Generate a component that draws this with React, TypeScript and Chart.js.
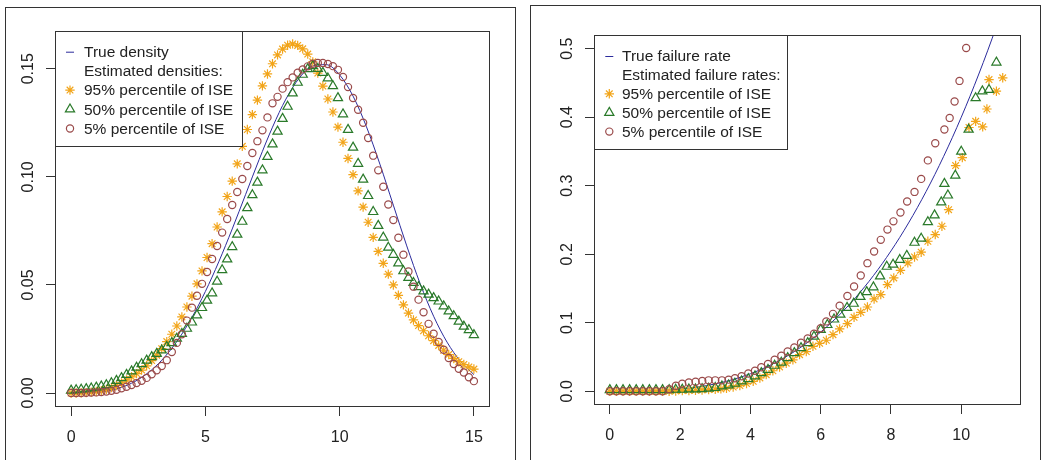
import React, { useEffect, useRef } from "react";
import { Chart, registerables } from "chart.js";

Chart.register(...registerables);

// ---------------- Left panel data (density) ----------------
const gridX = [
  0, 0.1875, 0.375, 0.5625, 0.75, 0.9375, 1.125, 1.3125, 1.5, 1.6875, 1.875, 2.0625, 2.25, 2.4375, 2.625, 2.8125,
  3, 3.1875, 3.375, 3.5625, 3.75, 3.9375, 4.125, 4.3125, 4.5, 4.6875, 4.875, 5.0625, 5.25, 5.4375, 5.625, 5.8125,
  6, 6.1875, 6.375, 6.5625, 6.75, 6.9375, 7.125, 7.3125, 7.5, 7.6875, 7.875, 8.0625, 8.25, 8.4375, 8.625, 8.8125,
  9, 9.1875, 9.375, 9.5625, 9.75, 9.9375, 10.125, 10.3125, 10.5, 10.6875, 10.875, 11.0625, 11.25, 11.4375, 11.625,
  11.8125, 12, 12.1875, 12.375, 12.5625, 12.75, 12.9375, 13.125, 13.3125, 13.5, 13.6875, 13.875, 14.0625, 14.25,
  14.4375, 14.625, 14.8125, 15,
];
const densStar95 = [
  0.0, 0.0, 0.0001, 0.0002, 0.0004, 0.0007, 0.0011, 0.0017, 0.0025, 0.0035, 0.0047, 0.006, 0.0075, 0.009, 0.0106,
  0.0126, 0.015, 0.0175, 0.0205, 0.0238, 0.0272, 0.031, 0.0352, 0.0398, 0.0448, 0.0505, 0.0565, 0.0627, 0.0691,
  0.0768, 0.0838, 0.0909, 0.098, 0.106, 0.1141, 0.1219, 0.1288, 0.1355, 0.1421, 0.1476, 0.1523, 0.1564, 0.1591,
  0.1609, 0.1615, 0.1608, 0.1592, 0.1568, 0.1532, 0.148, 0.142, 0.136, 0.13, 0.123, 0.116, 0.1085, 0.101, 0.0935,
  0.086, 0.079, 0.072, 0.0655, 0.06, 0.055, 0.05, 0.0452, 0.0408, 0.037, 0.0338, 0.0312, 0.0288, 0.0265, 0.0242,
  0.022, 0.0198, 0.0178, 0.016, 0.0145, 0.0132, 0.0121, 0.0111,
];
const densTri50 = [
  0.0012, 0.0014, 0.0016, 0.0019, 0.0022, 0.0026, 0.0031, 0.0037, 0.0046, 0.0057, 0.007, 0.0085, 0.0101, 0.0118,
  0.0134, 0.0151, 0.0167, 0.0182, 0.0198, 0.0214, 0.0232, 0.0252, 0.0274, 0.0298, 0.0327, 0.036, 0.0394, 0.0428,
  0.0462, 0.0516, 0.0569, 0.0619, 0.0676, 0.0733, 0.0793, 0.0856, 0.0916, 0.0974, 0.1031, 0.1093, 0.1151, 0.121,
  0.1269, 0.1325, 0.1387, 0.1436, 0.1473, 0.1499, 0.1513, 0.15, 0.1482, 0.1456, 0.142, 0.1365, 0.129, 0.1218,
  0.1136, 0.1061, 0.0988, 0.0912, 0.0838, 0.0774, 0.072, 0.0673, 0.064, 0.06, 0.0564, 0.0533, 0.051, 0.0491, 0.0471,
  0.0456, 0.044, 0.0424, 0.0402, 0.0378, 0.0356, 0.0331, 0.0308, 0.0292, 0.0269,
];
const densCirc5 = [
  0.0, 0.0, 0.0, 0.0001, 0.0002, 0.0003, 0.0005, 0.0007, 0.001, 0.0015, 0.0022, 0.0029, 0.0037, 0.0046, 0.0057,
  0.007, 0.0087, 0.0105, 0.0125, 0.0152, 0.019, 0.0232, 0.0272, 0.0335, 0.0395, 0.045, 0.0505, 0.056, 0.062, 0.068,
  0.0742, 0.0805, 0.087, 0.093, 0.099, 0.105, 0.111, 0.1165, 0.1215, 0.1275, 0.134, 0.137, 0.1408, 0.1438, 0.146,
  0.1482, 0.1497, 0.1511, 0.1523, 0.1527, 0.1527, 0.1522, 0.1512, 0.1495, 0.1462, 0.1415, 0.1365, 0.131, 0.125,
  0.118, 0.1098, 0.103, 0.0954, 0.0872, 0.08, 0.0718, 0.064, 0.0562, 0.0492, 0.0432, 0.0374, 0.032, 0.0274, 0.0236,
  0.02, 0.0162, 0.0134, 0.0112, 0.0095, 0.0073, 0.0055,
];
const densLineX = [
  0, 0.5, 1, 1.5, 2, 2.5, 3, 3.5, 4, 4.5, 5, 5.5, 6, 6.5, 7, 7.5, 8, 8.5, 9, 9.5, 10, 10.5, 11, 11.5, 12, 12.5, 13,
  13.5, 14, 14.5, 15,
];
const densLineY = [
  0, 0.00005, 0.0004, 0.00135, 0.00319, 0.00623, 0.01071, 0.01689, 0.02495, 0.03499, 0.04697, 0.06073, 0.07589,
  0.09189, 0.10792, 0.12298, 0.13597, 0.14575, 0.15131, 0.1519, 0.14715, 0.13734, 0.12314, 0.10585, 0.0869, 0.06805,
  0.05053, 0.03553, 0.02355, 0.01467, 0.00854,
];
const densXTicks = [0, 5, 10, 15];
const densYTicks = [0, 0.05, 0.1, 0.15];
const densYTickLabels = ["0.00", "0.05", "0.10", "0.15"];
const densLegend = [
  "True density",
  "Estimated densities:",
  "95% percentile of ISE",
  "50% percentile of ISE",
  "5% percentile of ISE",
];

// ---------------- Right panel data (failure rate) ----------------
const rateStarX = [
  0, 0.1875, 0.375, 0.5625, 0.75, 0.9375, 1.125, 1.3125, 1.5, 1.6875, 1.875, 2.0625, 2.25, 2.4375, 2.625, 2.8125, 3.0,
  3.16, 3.32, 3.51, 3.7, 3.89, 4.08, 4.27, 4.45, 4.64, 4.83, 5.02, 5.21, 5.4, 5.59, 5.78, 5.97, 6.16, 6.35, 6.54, 6.76,
  6.95, 7.14, 7.33, 7.52, 7.71, 7.9, 8.08, 8.27, 8.48, 8.67, 8.86, 9.05, 9.26, 9.45, 9.64, 9.84, 10.03, 10.22, 10.41,
  10.61, 10.73, 10.79, 11.0, 11.18,
];
const rateStarY = [
  0, 0, 0, 0, 0, 0, 0, 0, 0, 0, 0.0005, 0.001, 0.001, 0.0015, 0.002, 0.0025, 0.003, 0.0035, 0.0044, 0.0063, 0.0083,
  0.0112, 0.0146, 0.0195, 0.0243, 0.03, 0.0355, 0.041, 0.046, 0.0535, 0.058, 0.0657, 0.07, 0.0745, 0.0827, 0.091,
  0.0988, 0.108, 0.1153, 0.123, 0.1348, 0.1411, 0.1557, 0.1655, 0.1766, 0.1874, 0.196, 0.203, 0.219, 0.2288, 0.2409,
  0.265, 0.3295, 0.341, 0.385, 0.394, 0.386, 0.412, 0.455, 0.438, 0.4575,
];
const rateTriX = [
  0, 0.1875, 0.375, 0.5625, 0.75, 0.9375, 1.125, 1.3125, 1.5, 1.6875, 1.875, 2.0625, 2.25, 2.4375, 2.625, 2.8125, 3.0,
  3.19, 3.38, 3.56, 3.75, 3.94, 4.13, 4.31, 4.5, 4.69, 4.88, 5.06, 5.25, 5.44, 5.63, 5.81, 6.0, 6.19, 6.38, 6.56,
  6.75, 6.94, 7.13, 7.31, 7.5, 7.69, 7.88, 8.06, 8.25, 8.45, 8.67, 8.86, 9.05, 9.24, 9.43, 9.52, 9.62, 9.83, 10.0,
  10.21, 10.41, 10.6, 10.79, 11.0,
];
const rateTriY = [
  0.002, 0.002, 0.002, 0.002, 0.002, 0.002, 0.002, 0.002, 0.002, 0.002, 0.0025, 0.0025, 0.003, 0.003, 0.0035, 0.004,
  0.005, 0.0073, 0.0088, 0.0112, 0.0146, 0.018, 0.022, 0.0268, 0.0316, 0.0375, 0.042, 0.0487, 0.056, 0.0633, 0.0706,
  0.08, 0.09, 0.097, 0.105, 0.112, 0.122, 0.128, 0.138, 0.145, 0.152, 0.168, 0.182, 0.185, 0.192, 0.198, 0.217,
  0.223, 0.247, 0.257, 0.276, 0.303, 0.286, 0.315, 0.35, 0.382, 0.428, 0.438, 0.44, 0.48,
];
const rateCircX = [
  0, 0.1875, 0.375, 0.5625, 0.75, 0.9375, 1.125, 1.3125, 1.5, 1.69, 1.88, 2.06, 2.25, 2.44, 2.63, 2.81, 3.0, 3.19,
  3.38, 3.56, 3.75, 3.94, 4.13, 4.31, 4.5, 4.69, 4.88, 5.06, 5.25, 5.44, 5.63, 5.81, 6.0, 6.16, 6.35, 6.54, 6.76,
  6.95, 7.14, 7.33, 7.52, 7.71, 7.9, 8.07, 8.27, 8.46, 8.67, 8.86, 9.05, 9.26, 9.52, 9.67, 9.81, 9.95, 10.14,
];
const rateCircY = [
  0, 0, 0, 0, 0, 0, 0, 0, 0, 0.003, 0.008, 0.011, 0.013, 0.014, 0.015, 0.016, 0.016, 0.016, 0.017, 0.019, 0.022,
  0.026, 0.03, 0.035, 0.04, 0.046, 0.052, 0.058, 0.064, 0.071, 0.077, 0.084, 0.092, 0.102, 0.113, 0.125, 0.139,
  0.153, 0.169, 0.187, 0.204, 0.221, 0.236, 0.248, 0.261, 0.277, 0.291, 0.31, 0.337, 0.362, 0.382, 0.399, 0.423,
  0.453, 0.501,
];
const rateLineX = [
  0, 0.5, 1, 1.5, 2, 2.5, 3, 3.5, 4, 4.5, 5, 5.5, 6, 6.5, 7, 7.5, 8, 8.5, 9, 9.5, 10, 10.5, 11, 11.5,
];
const rateLineY = [
  0, 0.00005, 0.0004, 0.00135, 0.0032, 0.00625, 0.0108, 0.01715, 0.0256, 0.03645, 0.05, 0.06655, 0.0864, 0.10985,
  0.1372, 0.16875, 0.2048, 0.24565, 0.2916, 0.34295, 0.4, 0.46305, 0.5324, 0.60835,
];
const rateXTicks = [0, 2, 4, 6, 8, 10];
const rateYTicks = [0, 0.1, 0.2, 0.3, 0.4, 0.5];
const rateYTickLabels = ["0.0", "0.1", "0.2", "0.3", "0.4", "0.5"];
const rateLegend = [
  "True failure rate",
  "Estimated failure rates:",
  "95% percentile of ISE",
  "50% percentile of ISE",
  "5% percentile of ISE",
];

// ---------------- Styling ----------------
const FONT = '"Liberation Sans", Arial, Helvetica, sans-serif';
const LEGEND_FONT_SIZE = 15.5;
const TICK_FONT_SIZE = 16;
const TEXT = "#222";
const AXIS = "#333";
const LINE_COL = "#2b2b9c";
const STAR_COL = "#F2A51A";
const TRI_COL = "#2a7a2a";
const CIRC_COL = "#9a4a4a";
const STAR_R = 4.7;
const TRI_R = 5.3;
const CIRC_R = 3.6;
const MARK_W = 1.2;

const toPts = (xs: number[], ys: number[]) => xs.map((x, i) => ({ x, y: ys[i] }));

function drawSymbol(ctx: CanvasRenderingContext2D, kind: string, x: number, y: number) {
  ctx.save();
  ctx.lineWidth = MARK_W;
  ctx.beginPath();
  if (kind === "line") {
    ctx.lineWidth = 1;
    ctx.strokeStyle = LINE_COL;
    ctx.moveTo(x - 4, y + 0.5);
    ctx.lineTo(x + 4, y + 0.5);
  } else if (kind === "star") {
    ctx.strokeStyle = STAR_COL;
    const r = STAR_R;
    const d = r * Math.SQRT1_2;
    ctx.moveTo(x - r, y);
    ctx.lineTo(x + r, y);
    ctx.moveTo(x, y - r);
    ctx.lineTo(x, y + r);
    ctx.moveTo(x - d, y - d);
    ctx.lineTo(x + d, y + d);
    ctx.moveTo(x - d, y + d);
    ctx.lineTo(x + d, y - d);
  } else if (kind === "tri") {
    ctx.strokeStyle = TRI_COL;
    const r = TRI_R;
    let a = 0;
    ctx.moveTo(x + Math.sin(a) * r, y - Math.cos(a) * r);
    a += (2 * Math.PI) / 3;
    ctx.lineTo(x + Math.sin(a) * r, y - Math.cos(a) * r);
    a += (2 * Math.PI) / 3;
    ctx.lineTo(x + Math.sin(a) * r, y - Math.cos(a) * r);
    ctx.closePath();
  } else if (kind === "circ") {
    ctx.strokeStyle = CIRC_COL;
    ctx.arc(x, y, CIRC_R, 0, Math.PI * 2);
  }
  ctx.stroke();
  ctx.restore();
}

const rPlotPlugin = {
  id: "rPlot",
  afterDatasetsDraw(chart: any, _args: any, opts: any) {
    const { ctx, chartArea: a } = chart;
    ctx.save();
    // plot box
    ctx.strokeStyle = AXIS;
    ctx.lineWidth = 1;
    ctx.strokeRect(
      Math.round(a.left) + 0.5,
      Math.round(a.top) + 0.5,
      Math.round(a.right - a.left) - 1,
      Math.round(a.bottom - a.top) - 1
    );
    // rotated y tick labels
    const ys = chart.scales.y;
    ctx.fillStyle = TEXT;
    ctx.font = `${TICK_FONT_SIZE}px ${FONT}`;
    ctx.textAlign = "center";
    ctx.textBaseline = "alphabetic";
    (opts.yTicks as number[]).forEach((v, i) => {
      const py = ys.getPixelForValue(v);
      ctx.save();
      ctx.translate(a.left - opts.yLabelGap, py);
      ctx.rotate(-Math.PI / 2);
      ctx.fillText(opts.yLabels[i], 0, 0);
      ctx.restore();
    });
    // legend
    const lg = opts.legend;
    ctx.fillStyle = "#fff";
    ctx.fillRect(lg.x, lg.y, lg.w, lg.h);
    ctx.strokeStyle = AXIS;
    ctx.strokeRect(lg.x + 0.5, lg.y + 0.5, lg.w, lg.h);
    const kinds = ["line", "", "star", "tri", "circ"];
    ctx.font = `${LEGEND_FONT_SIZE}px ${FONT}`;
    ctx.textAlign = "left";
    ctx.textBaseline = "middle";
    (lg.items as string[]).forEach((t, i) => {
      const cy = lg.firstY + i * lg.step;
      if (kinds[i]) drawSymbol(ctx, kinds[i], lg.symX, cy);
      ctx.fillStyle = TEXT;
      ctx.fillText(t, lg.textX, cy + 1);
    });
    ctx.restore();
  },
};

type Panel = {
  width: number;
  height: number;
  area: { left: number; top: number; right: number; bottom: number };
  xMin: number;
  xMax: number;
  yMin: number;
  yMax: number;
  xTicks: number[];
  yTicks: number[];
  yLabels: string[];
  line: { x: number; y: number }[];
  stars: { x: number; y: number }[];
  tris: { x: number; y: number }[];
  circs: { x: number; y: number }[];
  legend: any;
};

function buildConfig(p: Panel): any {
  const pointDs = (data: any[], col: string, style: string, r: number, order: number) => ({
    data,
    showLine: false,
    pointStyle: style,
    pointRadius: r,
    pointHoverRadius: r,
    pointBorderWidth: MARK_W,
    borderColor: col,
    pointBorderColor: col,
    backgroundColor: "rgba(0,0,0,0)",
    pointBackgroundColor: "rgba(0,0,0,0)",
    clip: 0,
    order,
  });
  return {
    type: "scatter",
    data: {
      datasets: [
        {
          data: p.line,
          showLine: true,
          borderColor: LINE_COL,
          borderWidth: 1,
          pointRadius: 0,
          pointHoverRadius: 0,
          cubicInterpolationMode: "monotone",
          fill: false,
          clip: 0,
          order: 4,
        },
        pointDs(p.stars, STAR_COL, "star", STAR_R, 3),
        pointDs(p.tris, TRI_COL, "triangle", TRI_R, 2),
        pointDs(p.circs, CIRC_COL, "circle", CIRC_R, 1),
      ],
    },
    options: {
      responsive: false,
      maintainAspectRatio: false,
      animation: false,
      events: [],
      layout: {
        padding: { left: 0, top: p.area.top, right: p.width - p.area.right, bottom: 0 },
      },
      plugins: {
        legend: { display: false },
        tooltip: { enabled: false },
        rPlot: {
          yTicks: p.yTicks,
          yLabels: p.yLabels,
          yLabelGap: 22,
          legend: p.legend,
        },
      },
      scales: {
        x: {
          type: "linear",
          min: p.xMin,
          max: p.xMax,
          afterFit: (s: any) => {
            s.height = p.height - p.area.bottom;
          },
          afterBuildTicks: (s: any) => {
            s.ticks = p.xTicks.map((v) => ({ value: v }));
          },
          border: { display: false },
          grid: {
            drawOnChartArea: false,
            drawTicks: true,
            tickLength: 9,
            color: AXIS,
            lineWidth: 1,
          },
          ticks: {
            autoSkip: false,
            maxRotation: 0,
            padding: 12,
            color: TEXT,
            font: { family: FONT, size: TICK_FONT_SIZE },
            callback: (v: any) => String(v),
          },
        },
        y: {
          type: "linear",
          min: p.yMin,
          max: p.yMax,
          afterFit: (s: any) => {
            s.width = p.area.left;
          },
          afterBuildTicks: (s: any) => {
            s.ticks = p.yTicks.map((v) => ({ value: v }));
          },
          border: { display: false },
          grid: {
            drawOnChartArea: false,
            drawTicks: true,
            tickLength: 9,
            color: AXIS,
            lineWidth: 1,
          },
          ticks: { display: false },
        },
      },
    },
    plugins: [rPlotPlugin],
  };
}

const leftPanel: Panel = {
  width: 520,
  height: 460,
  area: { left: 55, top: 31, right: 490, bottom: 407 },
  xMin: -0.6,
  xMax: 15.6,
  yMin: -0.00646,
  yMax: 0.16746,
  xTicks: densXTicks,
  yTicks: densYTicks,
  yLabels: densYTickLabels,
  line: toPts(densLineX, densLineY),
  stars: toPts(gridX, densStar95),
  tris: toPts(gridX, densTri50),
  circs: toPts(gridX, densCirc5),
  legend: { x: 55, y: 31, w: 187, h: 115, items: densLegend, firstY: 51.7, step: 19.2, symX: 70, textX: 84 },
};

const rightPanel: Panel = {
  width: 520,
  height: 460,
  area: { left: 69, top: 35, right: 496, bottom: 405 },
  xMin: -0.45,
  xMax: 11.7,
  yMin: -0.02,
  yMax: 0.52,
  xTicks: rateXTicks,
  yTicks: rateYTicks,
  yLabels: rateYTickLabels,
  line: toPts(rateLineX, rateLineY),
  stars: toPts(rateStarX, rateStarY),
  tris: toPts(rateTriX, rateTriY),
  circs: toPts(rateCircX, rateCircY),
  legend: { x: 69, y: 35, w: 193, h: 114, items: rateLegend, firstY: 56, step: 18.9, symX: 84.3, textX: 97 },
};

function RChart({ panel, left }: { panel: Panel; left: number }) {
  const ref = useRef<HTMLCanvasElement | null>(null);
  useEffect(() => {
    if (!ref.current) return;
    const chart = new Chart(ref.current, buildConfig(panel));
    return () => chart.destroy();
  }, [panel]);
  return (
    <canvas
      ref={ref}
      width={panel.width}
      height={panel.height}
      style={{ position: "absolute", left, top: 0, width: panel.width, height: panel.height }}
    />
  );
}

export default function App() {
  return (
    <div
      style={{
        position: "fixed",
        left: 0,
        top: 0,
        width: 1045,
        height: 460,
        background: "#fff",
        overflow: "hidden",
      }}
    >
      <RChart panel={leftPanel} left={0} />
      <RChart panel={rightPanel} left={525} />
      <div
        style={{
          position: "absolute",
          left: 5,
          top: 7,
          width: 511,
          height: 470,
          border: "1px solid #333",
          borderBottom: "none",
          boxSizing: "border-box",
        }}
      />
      <div
        style={{
          position: "absolute",
          left: 530,
          top: 5,
          width: 511,
          height: 470,
          border: "1px solid #333",
          borderBottom: "none",
          boxSizing: "border-box",
        }}
      />
    </div>
  );
}
